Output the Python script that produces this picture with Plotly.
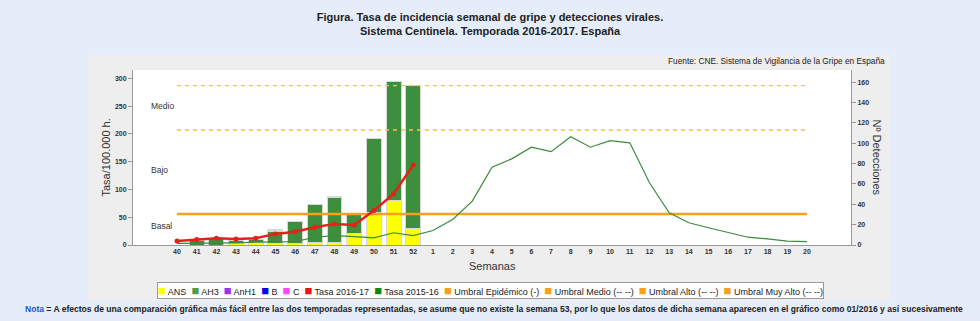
import plotly.graph_objects as go

# ---------------- data ----------------
weeks = ["40", "41", "42", "43", "44", "45", "46", "47", "48", "49", "50", "51", "52",
         "1", "2", "3", "4", "5", "6", "7", "8", "9", "10", "11", "12", "13", "14",
         "15", "16", "17", "18", "19", "20"]
bar_weeks = ["40", "41", "42", "43", "44", "45", "46", "47", "48", "49", "50", "51", "52"]

ans = [0, 0, 0, 1, 2, 1, 1, 2, 2, 11, 32, 44, 16]
ah3 = [0, 4, 6, 3, 3, 12, 22, 38, 45, 19, 73, 117, 141]
anh1 = [0, 0, 0, 0, 0, 1, 0, 0, 1, 0, 0, 0, 0]
b_vir = [0, 0, 0, 0, 0, 1, 0, 0, 0, 0, 0, 0, 0]
c_vir = [0, 0, 0, 0, 0, 0, 0, 0, 0, 0, 0, 0, 0]

tasa_1617 = [7, 10, 12, 11, 12, 20, 24, 32, 38, 36, 62, 92, 144]
tasa_1516 = [3, 3, 4, 4, 5, 5, 6, 14, 17, 15, 13, 22, 17,
             26, 46, 79, 140, 155, 176, 168, 195, 176, 188, 184, 112, 58, 40,
             31, 23, 14, 11, 7, 6]

umbral_epidemico = 55.6
umbral_medio = 207
umbral_alto = 287

left_ticks = [0, 50, 100, 150, 200, 250, 300]
right_ticks = [0, 20, 40, 60, 80, 100, 120, 140, 160]

legend_names = ["ANS", "AH3", "AnH1", "B", "C", "Tasa 2016-17", "Tasa 2015-16",
                "Umbral Epidémico (-)", "Umbral Medio (-- --)", "Umbral Alto (-- --)",
                "Umbral Muy Alto (-- --)"]
legend_colors = ["#ffff00", "#4f9a4f", "#9933ee", "#0000ee", "#ff44ff", "#ee1111",
                 "#118811", "#f5a020", "#f5a020", "#f5a020", "#f5a020"]

# ---------------- styles ----------------
C_ANS = "#ffff00"
C_AH3 = "#3d8f3d"
C_ANH1 = "#9933ee"
C_B = "#1a1aee"
C_C = "#ff44ff"
C_RED = "#e32219"
C_GREEN = "#3c8a3c"
C_ORANGE = "#f5a020"
C_DOT = "#f2c060"
FONT = "Liberation Sans, Arial, sans-serif"
NARROW = "Liberation Sans Narrow, Arial Narrow, Liberation Sans, Arial, sans-serif"

fig = go.Figure()

bar_line = dict(color="#d8d8d8", width=1)
for name, vals, col in [("ANS", ans, C_ANS), ("AH3", ah3, C_AH3), ("AnH1", anh1, C_ANH1),
                        ("B", b_vir, C_B), ("C", c_vir, C_C)]:
    fig.add_trace(go.Bar(x=bar_weeks, y=vals, name=name, marker=dict(color=col, line=bar_line),
                         width=0.76, yaxis="y", showlegend=False, hoverinfo="skip"))

n = len(weeks)
fig.add_trace(go.Scatter(x=weeks, y=[umbral_alto] * n, mode="lines", yaxis="y2",
                         line=dict(color=C_DOT, width=1.3, dash="4px,4px"), showlegend=False))
fig.add_trace(go.Scatter(x=weeks, y=[umbral_medio] * n, mode="lines", yaxis="y2",
                         line=dict(color=C_DOT, width=1.3, dash="4px,4px"), showlegend=False))
fig.add_trace(go.Scatter(x=weeks, y=[umbral_epidemico] * n, mode="lines", yaxis="y2",
                         line=dict(color=C_ORANGE, width=2.5), showlegend=False))
fig.add_trace(go.Scatter(x=weeks, y=tasa_1516, mode="lines", yaxis="y2",
                         line=dict(color=C_GREEN, width=1.2), showlegend=False))
fig.add_trace(go.Scatter(x=bar_weeks, y=tasa_1617, mode="lines+markers", yaxis="y2",
                         line=dict(color=C_RED, width=2.5), marker=dict(color=C_RED, size=5),
                         showlegend=False))

# layout geometry
L, R, T, B = 133, 129, 70, 75.5
PW, PH = 980 - L - R, 321 - T - B


def px(x):
    return (x - L) / PW


def py(y):
    return (321 - B - y) / PH


shapes = [
    dict(type="rect", xref="paper", yref="paper", x0=px(88), x1=px(890), y0=py(302), y1=py(55),
         fillcolor="#eeeeee", line=dict(width=0), layer="below"),
    dict(type="rect", xref="paper", yref="paper", x0=0, x1=1, y0=0, y1=1,
         fillcolor="#ffffff", line=dict(width=0), layer="below"),
]

legend_text = "&nbsp;&nbsp;".join(
    f"<span style='color:{c};font-size:13px'>■</span> {nm}" for nm, c in zip(legend_names, legend_colors))

tickfont = dict(family=FONT, size=7, color="#333", weight="bold")

annotations = [
    dict(text="Medio", x=px(149), y=251, xref="paper", yref="y2", xanchor="left", showarrow=False,
         font=dict(family=FONT, size=8.5, color="#333")),
    dict(text="Bajo", x=px(149), y=135, xref="paper", yref="y2", xanchor="left", showarrow=False,
         font=dict(family=FONT, size=8.5, color="#333")),
    dict(text="Basal", x=px(149), y=34, xref="paper", yref="y2", xanchor="left", showarrow=False,
         font=dict(family=FONT, size=8.5, color="#333")),
    dict(text="Fuente: CNE. Sistema de Vigilancia de la Gripe en España", x=px(887), y=py(61),
         xref="paper", yref="paper", xanchor="right", yanchor="middle", showarrow=False,
         font=dict(family=FONT, size=8.3, color="#222")),
    dict(text="Tasa/100.000 h.", x=px(105), y=0.5, xref="paper", yref="paper", textangle=-90,
         xanchor="center", yanchor="middle", showarrow=False, font=dict(family=FONT, size=11, color="#333")),
    dict(text="Nº Detecciones", x=px(877), y=0.5, xref="paper", yref="paper", textangle=90,
         xanchor="center", yanchor="middle", showarrow=False, font=dict(family=FONT, size=11, color="#333")),
    dict(text="Semanas", x=px(492), y=py(267), xref="paper", yref="paper",
         xanchor="center", yanchor="middle", showarrow=False, font=dict(family=FONT, size=11, color="#333")),
    dict(text=legend_text, x=px(490.5), y=py(291.5), xref="paper", yref="paper",
         xanchor="center", yanchor="middle", showarrow=False, bgcolor="#ffffff",
         bordercolor="#999999", borderwidth=1, borderpad=0,
         font=dict(family=FONT, size=9, color="#222")),
    dict(text="<b><span style='color:#2255cc'>Nota</span> = A efectos de una comparación gráfica más fácil entre las dos temporadas representadas, se asume que no existe la semana 53, por lo que los datos de dicha semana aparecen en el gráfico como 01/2016 y así sucesivamente</b>",
         x=px(23), y=py(310), xref="paper", yref="paper", xanchor="left", yanchor="middle",
         showarrow=False, font=dict(family=FONT, size=8.55, color="#222")),
]

fig.update_layout(
    width=980, height=321,
    margin=dict(l=L, r=R, t=T, b=B, pad=0),
    paper_bgcolor="#e4edf9",
    plot_bgcolor="rgba(0,0,0,0)",
    barmode="stack",
    bargap=0.24,
    showlegend=False,
    title=dict(text="<b>Figura. Tasa de incidencia semanal de gripe y detecciones virales.<br>Sistema Centinela. Temporada 2016-2017. España</b>",
               x=0.5, xanchor="center", y=1 - 21 / 321, yanchor="middle",
               font=dict(family=NARROW, size=11, color="#222")),
    xaxis=dict(type="category", categoryorder="array", categoryarray=weeks,
               range=[-2.235, len(weeks) - 1 + 2.235], showgrid=False, zeroline=False,
               showline=True, linecolor="#999", linewidth=1, ticks="",
               tickfont=tickfont, fixedrange=True),
    yaxis=dict(side="right", range=[0, 172], tickvals=right_ticks, showgrid=False, zeroline=False,
               showline=True, linecolor="#999", linewidth=1, ticks="outside", ticklen=4,
               tickcolor="#999", tickfont=tickfont),
    yaxis2=dict(side="left", overlaying="y", range=[0, 315], tickvals=left_ticks, showgrid=False,
                zeroline=False, showline=True, linecolor="#999", linewidth=1, ticks="outside",
                ticklen=4, tickcolor="#999", tickfont=tickfont),
    shapes=shapes,
    annotations=annotations,
)

fig.write_html("out.html")
